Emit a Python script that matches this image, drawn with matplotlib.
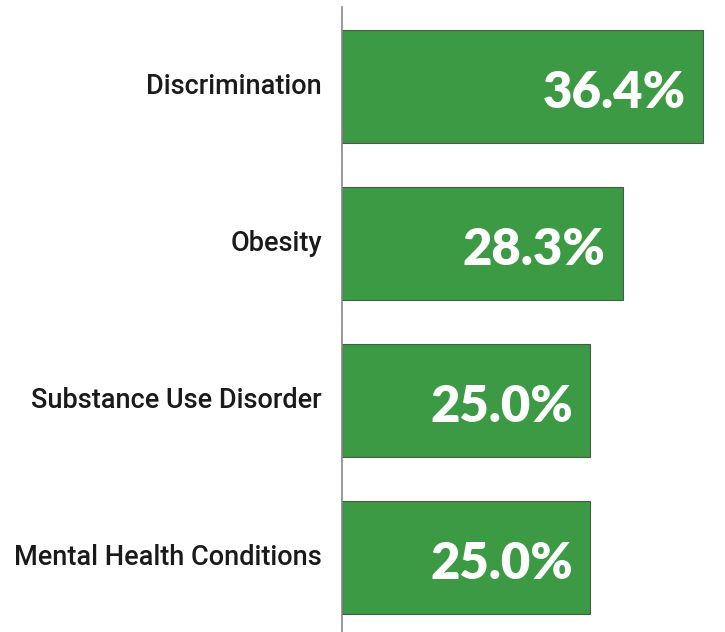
import matplotlib
matplotlib.use("Agg")
import matplotlib.pyplot as plt
from matplotlib.transforms import ScaledTranslation

categories = ["Discrimination", "Obesity", "Substance Use Disorder", "Mental Health Conditions"]
values = [36.4, 28.3, 25.0, 25.0]
value_labels = ["36.4%", "28.3%", "25.0%", "25.0%"]

W, H = 725, 632
fig = plt.figure(figsize=(W / 100, H / 100), dpi=100)
ax = fig.add_axes([342 / W, 0, (W - 342) / W, 625 / H])

bar_color = "#3b9a43"
ypos = list(range(len(categories)))
ax.barh(ypos, values, height=0.72, color=bar_color, edgecolor="#4a5a4a", linewidth=0.8)

ax.set_xlim(0, (W - 342) / 9.92)
ax.set_ylim(3.475, -0.506)

# value labels sit with their baseline a little below each bar's centre
label_shift = ScaledTranslation(-0.17, -0.215, fig.dpi_scale_trans)
for y, v, lab in zip(ypos, values, value_labels):
    ax.text(v, y, lab, ha="right", va="baseline", color="white",
            fontsize=36.5, fontweight="heavy", family=["Lato", "DejaVu Sans"],
            transform=ax.transData + label_shift)

ax.set_yticks(ypos)
ax.set_yticklabels(categories, fontsize=19.5, color="#1a1a1a", fontweight="medium",
                   family=["Roboto", "DejaVu Sans"])
ax.tick_params(axis="y", length=0, pad=14.5)
lift = ScaledTranslation(0, 0.03, fig.dpi_scale_trans)
for t in ax.get_yticklabels():
    t.set_transform(t.get_transform() + lift)
ax.set_xticks([])
for s in ["top", "right", "bottom"]:
    ax.spines[s].set_visible(False)
ax.spines["left"].set_color("#888888")
ax.spines["left"].set_linewidth(1.2)

fig.savefig("out.png", dpi=100, facecolor="white")
